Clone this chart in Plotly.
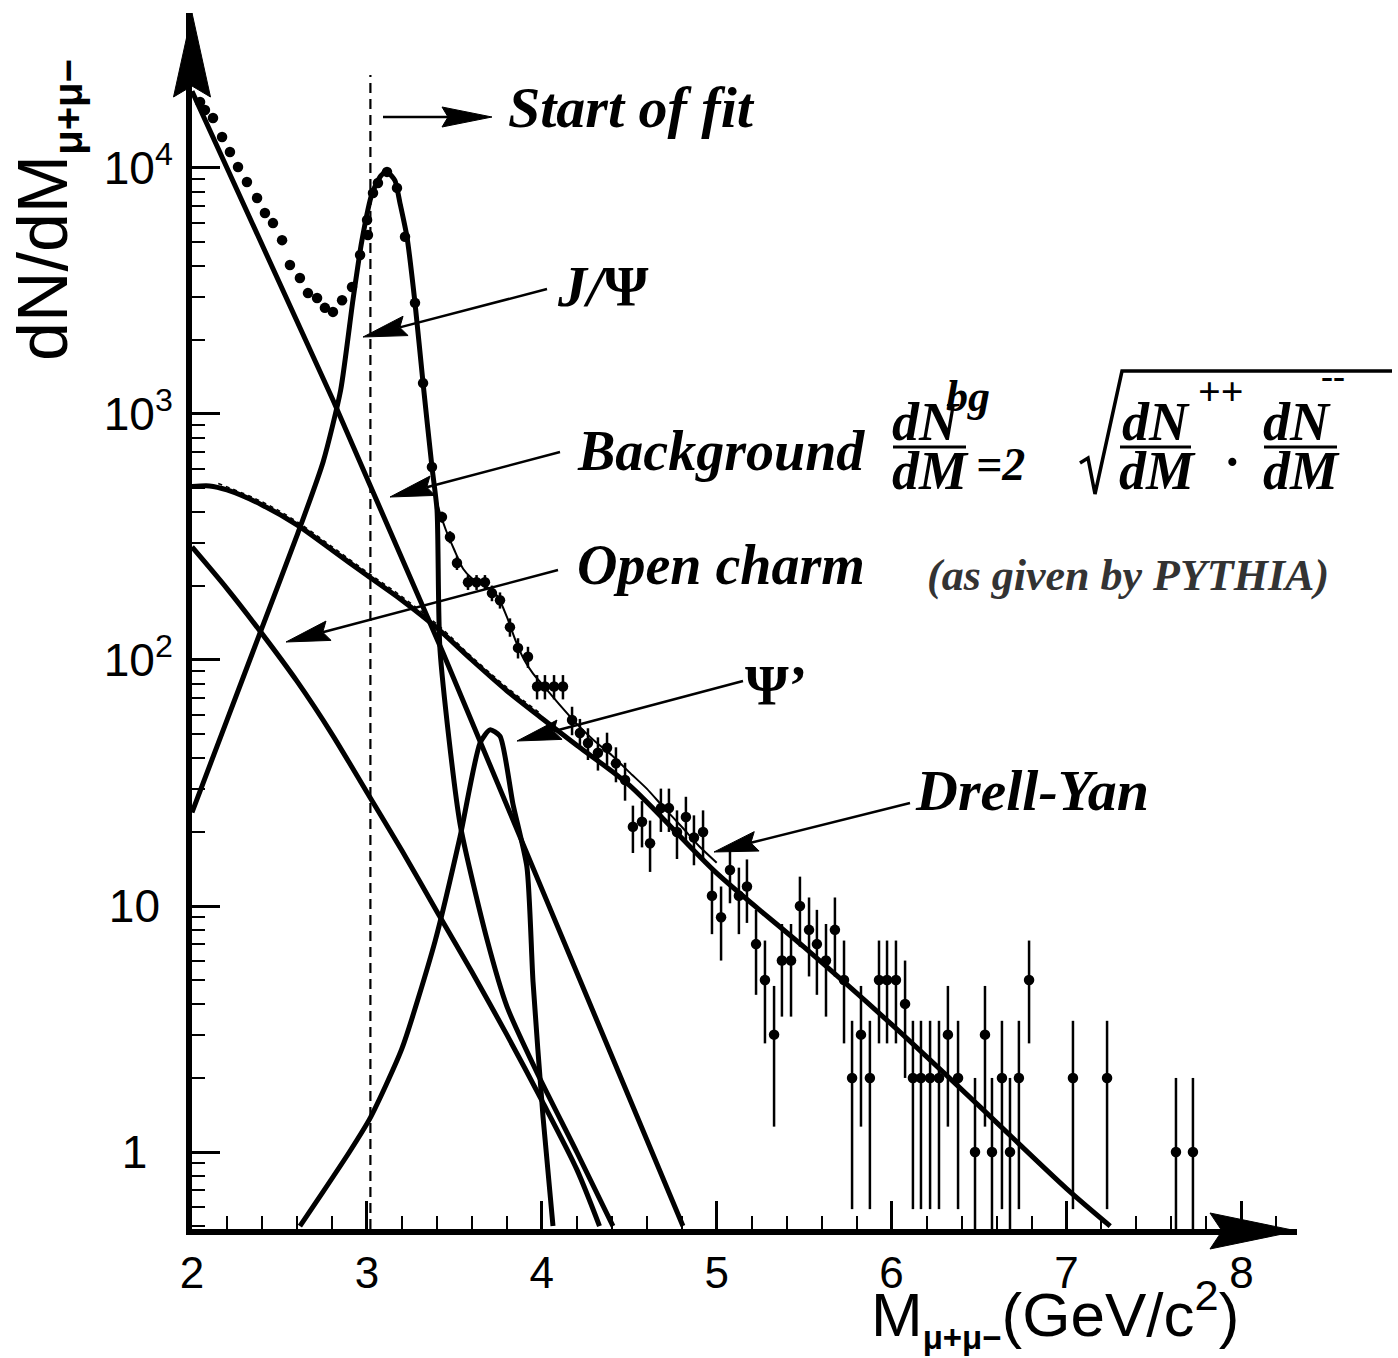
import math
import numpy as np
import plotly.graph_objects as go

# ---------------- data ----------------
# measured dimuon spectrum (counts per bin)
data_mass = [2.046, 2.074, 2.120, 2.172, 2.217, 2.263, 2.314, 2.372, 2.417, 2.463,
             2.515, 2.560, 2.617, 2.663, 2.715, 2.760, 2.806, 2.858, 2.915, 2.961,
             3.001, 3.006, 3.035, 3.063, 3.115, 3.172, 3.218, 3.275, 3.321, 3.372,
             3.429, 3.475, 3.515, 3.578, 3.627, 3.675, 3.715, 3.761, 3.818, 3.864,
             3.921, 3.973, 4.018, 4.070, 4.121, 4.173, 4.218, 4.264, 4.321, 4.373,
             4.424, 4.476, 4.521, 4.573, 4.619, 4.681, 4.727, 4.773, 4.824, 4.870,
             4.922, 4.973, 5.025, 5.076, 5.127, 5.173, 5.225, 5.276, 5.328, 5.373,
             5.425, 5.476, 5.528, 5.573, 5.625, 5.676, 5.728, 5.774, 5.825, 5.876,
             5.928, 5.974, 6.025, 6.077, 6.122, 6.168, 6.220, 6.271, 6.322, 6.380,
             6.477, 6.534, 6.574, 6.631, 6.677, 6.728, 6.786, 7.037, 7.232, 7.626,
             7.723]
data_counts = [18550, 17200, 15960, 13360, 11610, 10090, 8770, 7550, 6560, 5970,
               5090, 4030, 3570, 3100, 2960, 2700, 2600, 2900, 3280, 4430,
               6150, 5340, 7910, 8690, 9640, 8300, 5250, 2830, 1335, 609,
               381, 316, 248, 207, 207, 207, 187, 175, 136, 112,
               103, 78, 78, 78, 78, 57, 50.5, 46, 42, 44,
               38, 32.5, 21, 22, 18, 25, 25, 20, 23, 19,
               20, 11, 9, 14, 11, 12, 7, 5, 3, 6,
               6, 10, 8, 7, 6, 8, 5, 2, 3, 2,
               5, 5, 5, 4, 2, 2, 2, 2, 3, 2,
               1, 3, 1, 2, 1, 2, 5, 2, 2, 1,
               1]

# fit components
bg_mass = [2.0, 2.806, 3.435, 4.121, 4.807]
bg_vals = [20500, 1140, 107, 7.3, 0.5]

dy_mass = [2.0, 2.1, 2.2, 2.4, 2.6, 2.8, 3.0, 3.2, 3.4, 3.6, 3.8, 4.0, 4.2, 4.5,
           5.0, 5.5, 6.0, 6.5, 7.0, 7.25]
dy_vals = [507, 510, 491, 427, 354, 280, 221, 175, 135, 100, 75, 58, 45, 31,
           13.6, 6.8, 3.3, 1.54, 0.71, 0.5]

dy_alt_mass = [2.15, 2.4, 2.6, 2.8, 3.0, 3.2, 3.4, 3.6, 3.8, 4.0]
dy_alt_vals = [522, 440, 365, 289, 228, 181, 140, 103, 77.5, 60]

oc_mass = [2.0, 2.2, 2.4, 2.6, 2.8, 3.0, 3.2, 3.4, 3.6, 3.8, 4.0, 4.2, 4.33]
oc_vals = [288, 195, 128, 82, 50, 29, 16.8, 9.5, 5.4, 3.0, 1.62, 0.85, 0.5]

jpsi_mass = [2.0, 2.2, 2.4, 2.6, 2.75, 2.85, 2.92, 2.97, 3.03, 3.08, 3.115,
             3.16, 3.189, 3.229, 3.275, 3.321, 3.372, 3.401, 3.418, 3.532, 3.687,
             3.801, 3.973, 4.2, 4.407]
jpsi_vals = [24, 57, 135, 320, 640, 1250, 2900, 5000, 7900, 9300, 9640,
             8900, 7210, 5250, 2830, 1335, 609, 407, 110, 21.7, 7.3,
             3.9, 2.1, 1.0, 0.5]

psi2_mass = [2.617, 2.75, 2.9, 3.02, 3.2, 3.39, 3.532, 3.647, 3.704, 3.761,
             3.835, 3.915, 3.95, 4.007, 4.064]
psi2_vals = [0.5, 0.69, 1.0, 1.38, 2.63, 7.2, 19, 46, 52, 49,
             26, 14.4, 4.9, 1.39, 0.5]

fit_mass = [3.00, 3.05, 3.10, 3.15, 3.20, 3.25, 3.30, 3.35, 3.40, 3.45, 3.50,
            3.55, 3.60, 3.65, 3.70, 3.75, 3.80, 3.85, 3.90, 3.95, 4.00, 4.10,
            4.20, 4.30, 4.40, 4.50, 4.60, 4.70, 4.80, 4.90, 5.00]
fit_vals = [6300, 8600, 9800, 9300, 6900, 3900, 1800, 800, 440, 340, 280,
            235, 215, 205, 195, 180, 150, 120, 100, 88, 80, 66,
            55, 47, 41, 35, 30, 25, 21, 17.5, 15]

fit_start = 3.02
x_tick_vals = [2, 3, 4, 5, 6, 7, 8]
y_tick_vals = [1, 10, 100, 1000, 10000]
y_tick_text = ["1\u2007", "10\u2008", "10<sup>2</sup>", "10<sup>3</sup>", "10<sup>4</sup>"]
y_minor_vals = [m * 10 ** e for e in range(-1, 4) for m in range(2, 10)]

# ---------------- geometry ----------------
W, H = 1398, 1358
X0, X1 = 192, 1297          # pixel extent of the x axis
YT, YB = 13, 1229           # pixel extent of the y axis
X_RANGE = [2.0, 8.318]
Y_RANGE = [-0.313, 4.630]


def px(x):
    return x / W


def py(y):
    return 1 - y / H


BLACK = "black"
SANS = "Liberation Sans, Arial, sans-serif"
SERIF = "Liberation Serif, Times New Roman, serif"

fig = go.Figure()

line_w = 5
fig.add_trace(go.Scatter(x=bg_mass, y=bg_vals, mode="lines",
                         line=dict(color=BLACK, width=line_w), hoverinfo="skip"))
fig.add_trace(go.Scatter(x=dy_mass, y=dy_vals, mode="lines",
                         line=dict(color=BLACK, width=line_w, shape="spline", smoothing=0.8),
                         hoverinfo="skip"))
fig.add_trace(go.Scatter(x=dy_alt_mass, y=dy_alt_vals, mode="lines",
                         line=dict(color=BLACK, width=1.5, dash="4px,4px", shape="spline"),
                         hoverinfo="skip"))
fig.add_trace(go.Scatter(x=oc_mass, y=oc_vals, mode="lines",
                         line=dict(color=BLACK, width=line_w, shape="spline", smoothing=0.8),
                         hoverinfo="skip"))
fig.add_trace(go.Scatter(x=jpsi_mass, y=jpsi_vals, mode="lines",
                         line=dict(color=BLACK, width=line_w, shape="spline", smoothing=0.6),
                         hoverinfo="skip"))
fig.add_trace(go.Scatter(x=psi2_mass, y=psi2_vals, mode="lines",
                         line=dict(color=BLACK, width=line_w, shape="spline", smoothing=0.6),
                         hoverinfo="skip"))
fig.add_trace(go.Scatter(x=fit_mass, y=fit_vals, mode="lines",
                         line=dict(color=BLACK, width=2, shape="spline", smoothing=0.6),
                         hoverinfo="skip"))
# start of fit
fig.add_trace(go.Scatter(x=[fit_start, fit_start], y=[10 ** Y_RANGE[0], 23900], mode="lines",
                         line=dict(color=BLACK, width=2.2, dash="10px,6px"), hoverinfo="skip"))

counts = np.array(data_counts, dtype=float)
err = np.sqrt(counts)
err_lo = np.minimum(err, counts - 0.48)
fig.add_trace(go.Scatter(x=data_mass, y=data_counts, mode="markers",
                         marker=dict(color=BLACK, size=10.5),
                         error_y=dict(type="data", array=err, arrayminus=err_lo,
                                      color=BLACK, thickness=2.5, width=0),
                         hoverinfo="skip"))

# ---------------- axes ----------------
fig.update_layout(
    width=W, height=H, margin=dict(l=0, r=0, t=0, b=0, autoexpand=False),
    paper_bgcolor="white", plot_bgcolor="white", showlegend=False,
    xaxis=dict(domain=[px(X0), px(X1)], range=X_RANGE, showgrid=False, zeroline=False,
               automargin=False,
               showline=True, linewidth=6, linecolor=BLACK,
               ticks="inside", tickvals=x_tick_vals, ticklen=28, tickwidth=2.5, tickcolor=BLACK,
               minor=dict(ticks="inside", dtick=0.2, tick0=2, ticklen=13, tickwidth=2, tickcolor=BLACK),
               tickfont=dict(family=SANS, size=44, color=BLACK), ticklabelstandoff=0),
    yaxis=dict(domain=[py(YB), py(YT)], type="log", range=Y_RANGE, showgrid=False, zeroline=False,
               automargin=False,
               showline=True, linewidth=6, linecolor=BLACK,
               ticks="inside", tickvals=y_tick_vals, ticktext=y_tick_text, ticklen=28,
               tickwidth=2.5, tickcolor=BLACK,
               minor=dict(ticks="inside", ticklen=13, tickwidth=2, tickcolor=BLACK,
                          tickvals=y_minor_vals),
               tickfont=dict(family=SANS, size=46, color=BLACK), ticklabelstandoff=4),
)

shapes = []


def poly(points):
    s = "M " + " L ".join(f"{px(a):.5f},{py(b):.5f}" for a, b in points) + " Z"
    return dict(type="path", path=s, xref="paper", yref="paper",
                fillcolor=BLACK, line=dict(color=BLACK, width=1))

# axis arrowheads
shapes.append(poly([(X0, YT), (X0 - 18.5, 97), (X0, 86), (X0 + 18.5, 97)]))
shapes.append(poly([(X1, 1231), (1210, 1213), (1222, 1231), (1210, 1249)]))


def arrow(tail, tip, head_len=44, half_w=10, notch=6, lw=2.5):
    (x0, y0), (x1, y1) = tail, tip
    dx, dy = x1 - x0, y1 - y0
    L = math.hypot(dx, dy)
    ux, uy = dx / L, dy / L
    nx, ny = -uy, ux
    bx, by = x1 - ux * head_len, y1 - uy * head_len
    left = (bx + nx * half_w, by + ny * half_w)
    right = (bx - nx * half_w, by - ny * half_w)
    nt = (bx + ux * notch, by + uy * notch)
    out = [dict(type="line", xref="paper", yref="paper", x0=px(x0), y0=py(y0),
                x1=px(nt[0]), y1=py(nt[1]), line=dict(color=BLACK, width=lw))]
    out.append(poly([(x1, y1), left, nt, right]))
    return out

arrows = [((383, 117), (492, 117)),
          ((547, 289), (363, 337)),
          ((560, 452), (390, 497)),
          ((558, 570), (286, 642)),
          ((743, 681), (517, 741)),
          ((910, 803), (714, 852))]
for t, h in arrows:
    shapes += arrow(t, h, head_len=50 if t[1] == h[1] else 44)

# formula decorations: fraction bars and root sign
for xa, xb in [(893, 966), (1120, 1191), (1264, 1337)]:
    shapes.append(dict(type="line", xref="paper", yref="paper", x0=px(xa), x1=px(xb),
                       y0=py(447), y1=py(447), line=dict(color=BLACK, width=3)))
root = [(1080, 463), (1088, 458), (1095, 494), (1122, 371), (1392, 371)]
shapes.append(dict(type="path", xref="paper", yref="paper",
                   path="M " + " L ".join(f"{px(a):.5f},{py(b):.5f}" for a, b in root),
                   line=dict(color=BLACK, width=3.5)))
fig.update_layout(shapes=shapes)

# ---------------- texts ----------------
ann = []


def txt(text, x, y, size, family=SERIF, xanchor="left", yanchor="middle", color=BLACK, angle=0):
    ann.append(dict(text=text, x=px(x), y=py(y), xref="paper", yref="paper",
                    xanchor=xanchor, yanchor=yanchor, showarrow=False, textangle=angle,
                    font=dict(family=family, size=size, color=color)))

txt("<b><i>Start of fit</i></b>", 506, 108, 58)
txt("<b><i>J/</i>Ψ</b>", 555, 286, 58)
txt("<b><i>Background</i></b>", 575, 451, 56)
txt("<b><i>Open charm</i></b>", 575, 565, 56)
txt("<b><i>(as given by PYTHIA)</i></b>", 925, 575, 44, color="#333333")
txt("<b>Ψ’</b>", 743, 686, 56)
txt("<b><i>Drell-Yan</i></b>", 913, 790, 58)

# formula
txt("<b><i>dN</i></b>", 890, 422, 54)
txt("<b><i>bg</i></b>", 944, 396, 44)
txt("<b><i>dM</i></b>", 890, 471, 54)
txt("<b><i>=2</i></b>", 974, 464, 46)
txt("<b><i>dN</i></b>", 1120, 422, 54)
txt("<b>++</b>", 1196, 392, 40)
txt("<b>·</b>", 1222, 462, 50)
txt("<b><i>dM</i></b>", 1117, 471, 54)
txt("<b><i>dN</i></b>", 1261, 422, 54)
txt("<b>--</b>", 1319, 376, 36)
txt("<b><i>dM</i></b>", 1261, 471, 54)

# axis titles
txt("dN/dM<sub><b><span style='font-size:40px'>μ+μ−</span></b></sub>", 47, 210, 70,
    family=SANS, xanchor="center", angle=-90)
txt("M<sub><b><span style='font-size:33px'>μ+μ−</span></b></sub>(GeV/c<sup>2</sup>)",
    1055, 1358, 62, family=SANS, xanchor="center", yanchor="bottom")

fig.update_layout(annotations=ann)
fig.write_html("out.html", post_script="document.body.style.margin='0';")
